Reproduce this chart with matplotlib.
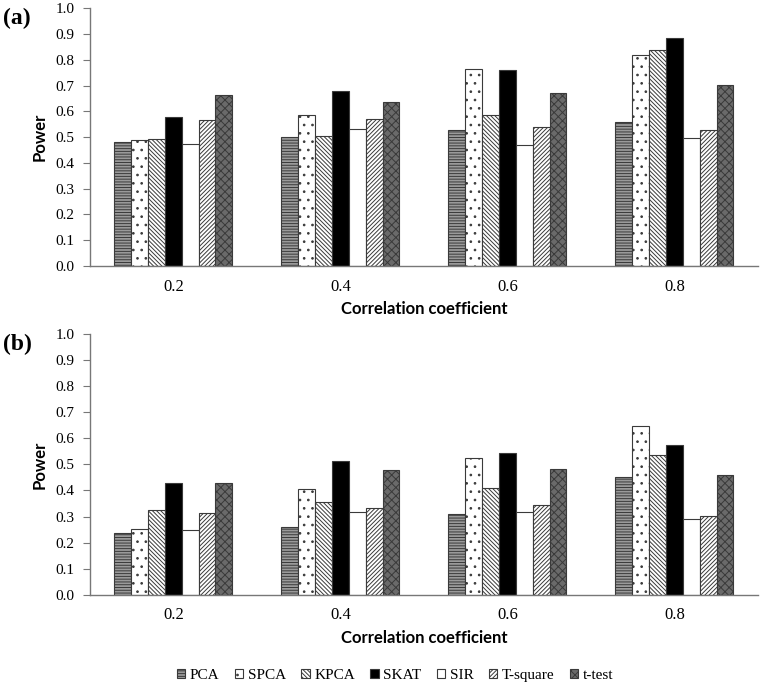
import numpy as np
import matplotlib.pyplot as plt
from matplotlib.patches import Patch

# correlation levels on the x axis
categories = ['0.2', '0.4', '0.6', '0.8']
methods = ['PCA', 'SPCA', 'KPCA', 'SKAT', 'SIR', 'T-square', 't-test']

# panel (a) power values, one list per method
power_a = {
    'PCA':      [0.482, 0.500, 0.527, 0.558],
    'SPCA':     [0.488, 0.586, 0.763, 0.818],
    'KPCA':     [0.491, 0.505, 0.587, 0.840],
    'SKAT':     [0.578, 0.679, 0.761, 0.884],
    'SIR':      [0.475, 0.531, 0.468, 0.496],
    'T-square': [0.566, 0.572, 0.539, 0.526],
    't-test':   [0.662, 0.636, 0.671, 0.703],
}

# panel (b) power values
power_b = {
    'PCA':      [0.236, 0.262, 0.309, 0.451],
    'SPCA':     [0.254, 0.404, 0.524, 0.645],
    'KPCA':     [0.327, 0.354, 0.411, 0.535],
    'SKAT':     [0.428, 0.512, 0.542, 0.575],
    'SIR':      [0.250, 0.316, 0.319, 0.291],
    'T-square': [0.315, 0.333, 0.346, 0.303],
    't-test':   [0.428, 0.480, 0.484, 0.461],
}

styles = {
    'PCA':      dict(facecolor='#9a9a9a', hatch='------'),
    'SPCA':     dict(facecolor='white', hatch='..'),
    'KPCA':     dict(facecolor='white', hatch='\\' * 8),
    'SKAT':     dict(facecolor='black', hatch=None),
    'SIR':      dict(facecolor='white', hatch=None),
    'T-square': dict(facecolor='white', hatch='/' * 8),
    't-test':   dict(facecolor='#6a6a6a', hatch='xxxx'),
}

plt.rcParams['hatch.linewidth'] = 0.7
plt.rcParams['hatch.color'] = 'black'

serif = 'Liberation Serif'
sans = 'Lato'

fig = plt.figure(figsize=(7.61, 6.91), dpi=100)
ax_a = fig.add_axes([0.118, 0.615, 0.878, 0.373])
ax_b = fig.add_axes([0.118, 0.139, 0.878, 0.378])

x = np.arange(len(categories))
n = len(methods)
width = 1.0 / (n + 2.9)


def draw_panel(ax, data, label):
    for i, m in enumerate(methods):
        offs = (i - (n - 1) / 2) * width
        ax.bar(x + offs, data[m], width, edgecolor='#3a3a3a', linewidth=0.8,
               **styles[m])
    ax.set_xlim(-0.5, len(categories) - 0.5)
    ax.set_ylim(0, 1.0)
    ax.set_yticks(np.arange(0, 1.01, 0.1))
    ax.set_yticklabels(['%.1f' % v for v in np.arange(0, 1.01, 0.1)],
                       fontfamily=serif, fontsize=11)
    ax.set_xticks(x)
    ax.set_xticklabels(categories, fontfamily=serif, fontsize=12)
    ax.tick_params(axis='x', length=0, pad=9)
    ax.tick_params(axis='y', length=5, color='#777777', pad=6)
    for s in ['top', 'right']:
        ax.spines[s].set_visible(False)
    for s in ['left', 'bottom']:
        ax.spines[s].set_color('#777777')
        ax.spines[s].set_linewidth(1.0)
    ax.set_xlabel('Correlation coefficient', fontfamily=sans, fontweight='bold',
                  fontsize=12, labelpad=5)
    ax.set_ylabel('Power', fontfamily=sans, fontweight='bold', fontsize=12,
                  labelpad=6)
    ax.text(-0.118 / 0.878 + 0.005, 1.0, label, transform=ax.transAxes,
            fontfamily=serif, fontweight='bold', fontsize=17, va='top', ha='left')


draw_panel(ax_a, power_a, '(a)')
draw_panel(ax_b, power_b, '(b)')

handles = [Patch(edgecolor='#3a3a3a', linewidth=0.8, label=m, **styles[m])
           for m in methods]
fig.legend(handles=handles, loc='center', bbox_to_anchor=(0.519, 0.022), ncol=7,
           frameon=False, prop={'family': serif, 'size': 11},
           handlelength=0.55, handleheight=0.55, handletextpad=0.3,
           columnspacing=1.0)

fig.savefig('out.png', dpi=100)
